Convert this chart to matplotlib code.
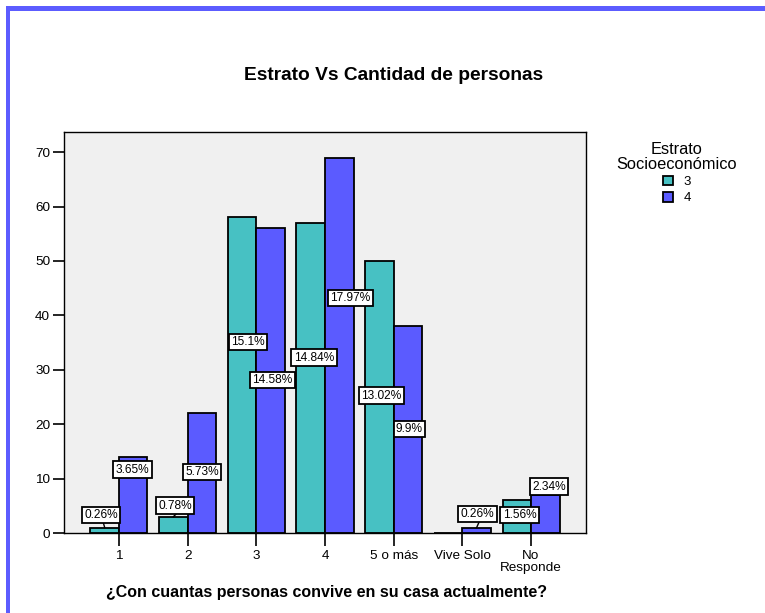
import matplotlib
matplotlib.use("Agg")
import matplotlib.pyplot as plt
from matplotlib.patches import Rectangle, Patch

plt.rcParams["font.family"] = ["Liberation Sans", "DejaVu Sans"]

categories = ["1", "2", "3", "4", "5 o más", "Vive Solo", "No\nResponde"]
estrato3 = [1, 3, 58, 57, 50, 0, 6]
estrato4 = [14, 22, 56, 69, 38, 1, 7]
pct3 = ["0.26%", "0.78%", "15.1%", "14.84%", "13.02%", None, "1.56%"]
pct4 = ["3.65%", "5.73%", "14.58%", "17.97%", "9.9%", "0.26%", "2.34%"]

# where each percentage box sits (x, y in data units); labels near the
# axis get a short leader line down to the bar
pos3 = [(-0.26, 3.3), (0.82, 5.0), (1.88, 35.1), (2.84, 32.2), (3.82, 25.2), None, (5.83, 3.3)]
pos4 = [(0.20, 11.6), (1.21, 11.2), (2.23, 28.1), (3.37, 43.2), (4.23, 19.1), (5.22, 3.5), (6.26, 8.5)]
leader3 = [True, True, False, False, False, False, False]
leader4 = [False, False, False, False, False, True, False]

c3 = "#47c1c3"
c4 = "#5b5bff"
W, H = 765, 613
bw = 0.415

fig = plt.figure(figsize=(W / 100, H / 100), dpi=100)
ax = fig.add_axes([64 / W, 1 - 533 / H, (586 - 64) / W, (533 - 132) / H])
ax.set_facecolor("#f0f0f0")

x = list(range(len(categories)))
ax.bar([i - bw / 2 for i in x], estrato3, width=bw, color=c3, edgecolor="black", linewidth=1.3, label="3", zorder=2)
ax.bar([i + bw / 2 for i in x], estrato4, width=bw, color=c4, edgecolor="black", linewidth=1.3, label="4", zorder=2)

box = dict(boxstyle="square,pad=0.2", fc="white", ec="black", lw=1.3)
for vals, pcts, pos, lead, off in [(estrato3, pct3, pos3, leader3, -bw / 2), (estrato4, pct4, pos4, leader4, bw / 2)]:
    for i, (v, p, ps, ld) in enumerate(zip(vals, pcts, pos, lead)):
        if p is None:
            continue
        if ld:
            ax.plot([ps[0] + 0.03, i + off], [ps[1] - 1.3, v], color="black", lw=1, zorder=3)
        ax.text(ps[0], ps[1], p, ha="center", va="center", fontsize=8.6, bbox=box, zorder=4)

ax.set_xlim(-0.8, 6.8)
ax.set_ylim(0, 73.7)
ax.set_xticks(x)
ax.set_xticklabels(categories, fontsize=9.7, linespacing=1.0, va="top")
ax.set_yticks(range(0, 71, 10))
ax.tick_params(axis="y", labelsize=9.7, length=8, width=1.2, pad=2)
ax.tick_params(axis="x", length=9, width=1.2, pad=3)
for s in ax.spines.values():
    s.set_linewidth(1)

fig.text(394 / W, 1 - 75 / H, "Estrato Vs Cantidad de personas", ha="center", va="center",
         fontsize=13.8, fontweight="bold")
fig.text(326 / W, 1 - 593 / H, "¿Con cuantas personas convive en su casa actualmente?", ha="center",
         va="center", fontsize=11.5, fontweight="bold")

handles = [Patch(facecolor=c3, edgecolor="black", lw=1.3), Patch(facecolor=c4, edgecolor="black", lw=1.3)]
leg = fig.legend(handles, ["3", "4"], title="Estrato\nSocioeconómico", loc="upper center",
                 bbox_to_anchor=(677 / W, 1 - 135 / H), frameon=False, fontsize=9.5, title_fontsize=11.8,
                 handlelength=0.75, handleheight=0.75, handletextpad=0.8, labelspacing=0.3, borderpad=0)
leg.get_title().set_multialignment("center")
leg.get_title().set_linespacing(1.0)

# frame on the top and left edges
fig.add_artist(Rectangle((6 / W, 1 - 11 / H), 1, 5 / H, transform=fig.transFigure, color="#5c5cff", lw=0))
fig.add_artist(Rectangle((6 / W, 0), 4 / W, 1 - 6 / H, transform=fig.transFigure, color="#5c5cff", lw=0))

fig.savefig("out.png", dpi=100)
